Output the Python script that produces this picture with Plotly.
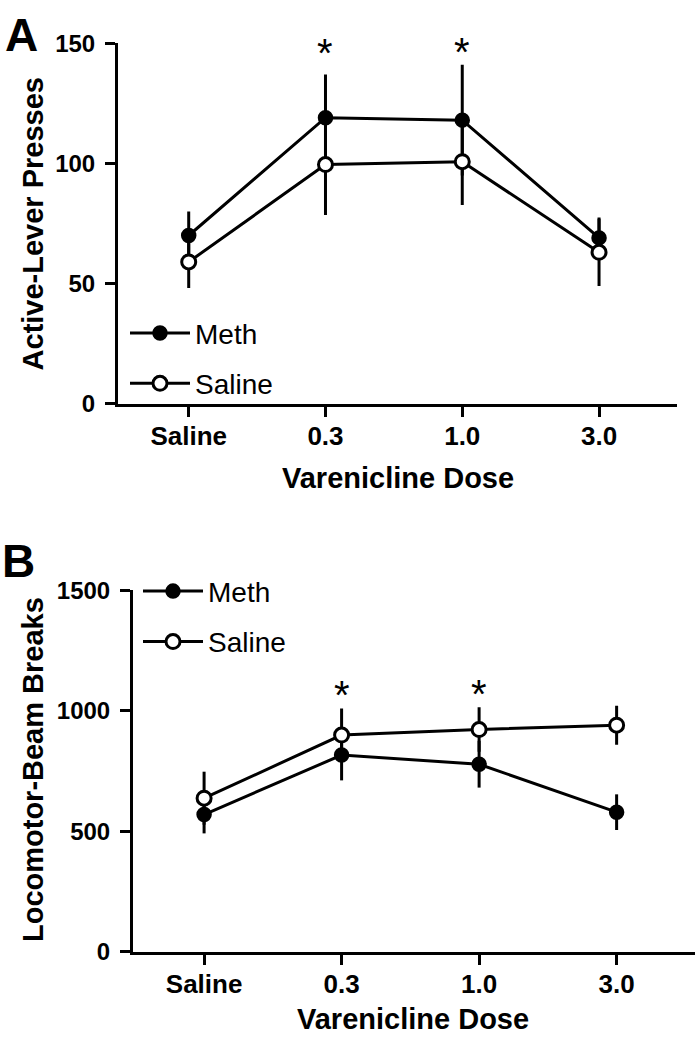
import plotly.graph_objects as go

# ---- data ----
doses = ["Saline", "0.3", "1.0", "3.0"]
dose_pos = [0, 1, 2, 3]

a_meth = [70, 119, 118, 69]
a_meth_sem = [10, 18, 23, 8.5]
a_sal = [59, 99.5, 100.7, 63]
a_sal_sem = [10.8, 21, 18, 14]

b_meth = [570, 817, 779, 580]
b_meth_sem = [78, 105, 97, 74]
b_sal = [638, 900, 923, 941]
b_sal_sem = [110, 110, 92, 81]

a_sig = ["0.3", "1.0"]
a_sig_y = [146, 146.5]
b_sig = ["0.3", "1.0"]
b_sig_y = [1065, 1072]

a_yticks = [0, 50, 100, 150]
b_yticks = [0, 500, 1000, 1500]

FONT = "Liberation Sans, Arial, sans-serif"
W, H = 695, 1050

fig = go.Figure()

def add_series(y, sem, filled, name, xa, ya, legend):
    fig.add_trace(go.Scatter(
        x=dose_pos, y=y, mode="lines+markers", name=name,
        xaxis=xa, yaxis=ya, legend=legend, legendgroup=name + legend,
        line=dict(color="black", width=3),
        marker=dict(symbol="circle", size=13 if filled else 14,
                    color="black" if filled else "white",
                    line=dict(color="black", width=2.5 if filled else 3)),
        error_y=dict(type="data", array=sem, visible=True, color="black",
                     thickness=3, width=0),
        cliponaxis=False,
    ))

add_series(a_meth, a_meth_sem, True, "Meth", "x", "y", "legend")
add_series(a_sal, a_sal_sem, False, "Saline", "x", "y", "legend")
add_series(b_meth, b_meth_sem, True, "Meth", "x2", "y2", "legend2")
add_series(b_sal, b_sal_sem, False, "Saline", "x2", "y2", "legend2")

xcommon = dict(range=[-0.517, 3.57], tickmode="array", tickvals=dose_pos,
               ticktext=doses, showline=True, linecolor="black", linewidth=3,
               ticks="outside", ticklen=10, tickwidth=3, tickcolor="black",
               showgrid=False, zeroline=False, fixedrange=True,
               tickfont=dict(family=FONT, size=26, color="black", weight="bold"),
               ticklabelstandoff=-3)
ycommon = dict(showline=True, linecolor="black", linewidth=3,
               ticks="outside", ticklen=10, tickwidth=3, tickcolor="black",
               showgrid=False, zeroline=False, fixedrange=True,
               tickfont=dict(family=FONT, size=24, color="black", weight="bold"),
               ticklabelstandoff=5)

fig.update_layout(
    width=W, height=H, margin=dict(l=0, r=0, t=0, b=0),
    paper_bgcolor="white", plot_bgcolor="white",
    xaxis=dict(domain=[118 / W, 677 / W], anchor="y", **xcommon),
    yaxis=dict(domain=[1 - 400 / H, 1 - 30 / H], anchor="x", range=[0, 150],
               tickvals=a_yticks, **ycommon),
    xaxis2=dict(domain=[133 / W, 1.0], anchor="y2", **xcommon),
    yaxis2=dict(domain=[1 - 962.7 / H, 1 - 591.7 / H], anchor="x2", range=[0, 1500],
                tickvals=b_yticks, **ycommon),
    legend=dict(x=125 / W, y=1 - 302 / H, xanchor="left", yanchor="top",
                bgcolor="rgba(0,0,0,0)", tracegroupgap=11, itemwidth=60,
                font=dict(family=FONT, size=28, color="black")),
    legend2=dict(x=138 / W, y=1 - 567 / H, xanchor="left", yanchor="top",
                 bgcolor="rgba(0,0,0,0)", tracegroupgap=11, itemwidth=60,
                 font=dict(family=FONT, size=28, color="black")),
    showlegend=True,
)

ann = []
# significance asterisks
for d, yv in zip(a_sig, a_sig_y):
    ann.append(dict(x=dose_pos[doses.index(d)], y=yv, xref="x", yref="y", text="*",
                    showarrow=False, font=dict(family=FONT, size=40, color="black"),
                    xanchor="center", yanchor="middle"))
for d, yv in zip(b_sig, b_sig_y):
    ann.append(dict(x=dose_pos[doses.index(d)], y=yv, xref="x2", yref="y2", text="*",
                    showarrow=False, font=dict(family=FONT, size=40, color="black"),
                    xanchor="center", yanchor="middle"))

title_font = dict(family=FONT, size=29, color="black", weight="bold")
ann += [
    dict(x=33 / W, y=1 - 216 / H, xref="paper", yref="paper", text="Active-Lever Presses",
         textangle=-90, showarrow=False, font=title_font, xanchor="center", yanchor="middle"),
    dict(x=33 / W, y=1 - 776 / H, xref="paper", yref="paper", text="Locomotor-Beam Breaks",
         textangle=-90, showarrow=False, font=title_font, xanchor="center", yanchor="middle"),
    dict(x=398 / W, y=1 - 476 / H, xref="paper", yref="paper", text="Varenicline Dose",
         showarrow=False, font=title_font, xanchor="center", yanchor="middle"),
    dict(x=413 / W, y=1 - 1032 / H, xref="paper", yref="paper", text="Varenicline Dose",
         showarrow=False, font=title_font, xanchor="center", yanchor="middle"),
    dict(x=3 / W, y=1 - 22 / H, xref="paper", yref="paper", text="A",
         showarrow=False, font=dict(family=FONT, size=46, color="black", weight="bold"),
         xanchor="left", yanchor="middle"),
    dict(x=0 / W, y=1 - 561 / H, xref="paper", yref="paper", text="B",
         showarrow=False, font=dict(family=FONT, size=46, color="black", weight="bold"),
         xanchor="left", yanchor="middle"),
]
fig.update_layout(annotations=ann)

fig.write_html("out.html", config={"displayModeBar": False},
               post_script="document.body.style.margin='0';")
